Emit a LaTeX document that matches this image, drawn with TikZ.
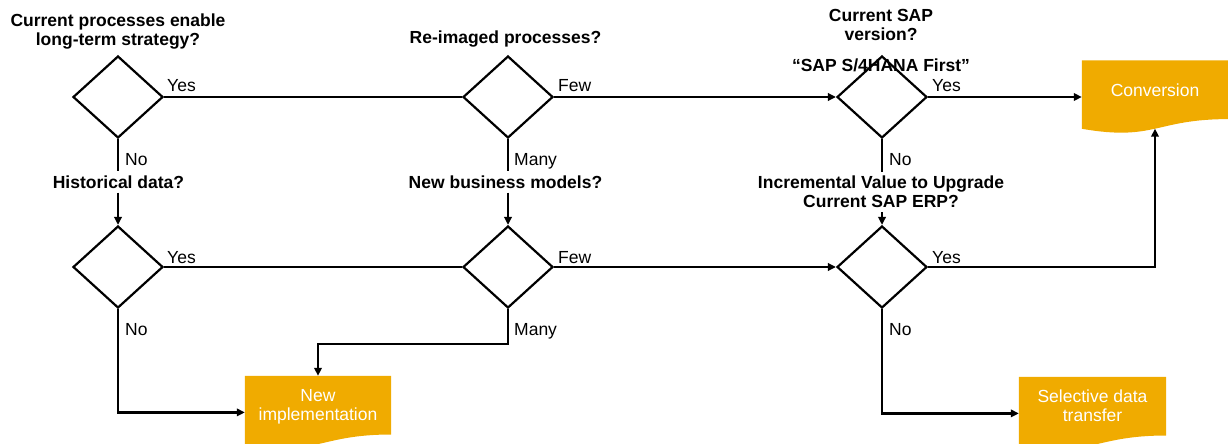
\documentclass[tikz,border=0pt]{standalone}
\usepackage{fontspec}
\setmainfont{Liberation Sans}
\usetikzlibrary{shapes.geometric,arrows.meta,calc}
\definecolor{sapgold}{RGB}{240,171,0}
\newcommand\docfill[1]{%
  \fill[sapgold] (#1.north west) -- (#1.north east) -- ($(#1.north east)!0.802!(#1.south east)$)
    .. controls ($(#1.north)!0.802!(#1.south)$) and ($(#1.north)!1.1075!(#1.south)$) ..
    ($(#1.north west)!0.934!(#1.south west)$) -- cycle;}
\begin{document}
\begin{tikzpicture}[x=1pt,y=-1pt,
  font=\fontsize{17.5}{19}\selectfont,
  dec/.style={diamond,draw,line width=2.2pt,minimum width=90pt,minimum height=82pt,inner sep=0pt},
  ques/.style={font=\fontsize{17.5}{19}\selectfont\bfseries,align=center,inner xsep=0pt,inner ysep=4pt},
  lbl/.style={anchor=base west,inner sep=0pt},
  docbox/.style={minimum width=146pt,minimum height=72.8pt,inner sep=0pt},
  boxtext/.style={text=white,align=center,inner sep=0pt},
  conn/.style={line width=2.2pt},
  arr/.style={conn,-{Triangle[length=8pt,width=7.5pt]}},
]
\useasboundingbox (0,0) rectangle (1228,444);
% decisions
\node[dec] (d1) at (118,97) {};
\node[dec] (d2) at (508,97) {};
\node[dec] (d3) at (882,97) {};
\node[dec] (d4) at (118,267) {};
\node[dec] (d5) at (508,267) {};
\node[dec] (d6) at (882,267) {};
% document boxes
\node[docbox] (conv) at (1155,97) {};
\node[docbox] (newimp) at (318,412.4) {};
\node[docbox,minimum width=147pt] (sel) at (1092.5,413.4) {};
\docfill{conv}
\docfill{newimp}
\docfill{sel}
\node[boxtext,anchor=base] (convt) at (1155,96) {Conversion};
\node[boxtext,anchor=north] (newimpt) at (318,389.5) {New\\implementation};
\node[boxtext,anchor=north] (selt) at (1092.5,390) {Selective data\\transfer};
% questions
\node[ques,anchor=north] (q1) at (118,9.5) {Current processes enable\\long-term strategy?};
\node[ques,anchor=base] (q2) at (505.5,43.3) {Re-imaged processes?};
\node[ques,anchor=north] (q3) at (881,5.2) {Current SAP\\version?};
\node[ques,anchor=base] (q3b) at (881,71) {“SAP S/4HANA First”};
\node[ques,anchor=base] (q4) at (118.5,188.3) {Historical data?};
\node[ques,anchor=base] (q5) at (505.5,188.3) {New business models?};
\node[ques,anchor=north] (q6) at (881,171.8) {Incremental Value to Upgrade\\Current SAP ERP?};
% branch labels
\node[lbl] (l1) at (167,92) {Yes};
\node[lbl] (l2) at (125,165) {No};
\node[lbl] (l3) at (558,92) {Few};
\node[lbl] (l4) at (514,165) {Many};
\node[lbl] (l5) at (932,92) {Yes};
\node[lbl] (l6) at (889,165) {No};
\node[lbl] (l7) at (167,263) {Yes};
\node[lbl] (l8) at (125,335) {No};
\node[lbl] (l9) at (558,263) {Few};
\node[lbl] (l10) at (514,335) {Many};
\node[lbl] (l11) at (932,263) {Yes};
\node[lbl] (l12) at (889,335) {No};
% connectors
\draw[conn] (d1.east) -- (d2.west);
\draw[arr] (d2.east) -- (d3.west);
\draw[arr] (d3.east) -- (conv.west);
\draw[conn] (d1.south) -- (d1.south |- q4.north);
\draw[arr] (d1.south |- q4.south) -- (d4.north);
\draw[conn] (d2.south) -- (d2.south |- q5.north);
\draw[arr] (d2.south |- q5.south) -- (d5.north);
\draw[conn] (d3.south) -- (d3.south |- q6.north);
\draw[arr] (d3.south |- q6.south) -- (d6.north);
\draw[conn] (d4.east) -- (d5.west);
\draw[arr] (d5.east) -- (d6.west);
\coordinate (convin) at ($(conv.north)!0.933!(conv.south)$);
\draw[arr] (d6.east) -| (convin);
\draw[arr] (d4.south) |- (newimp.west);
\draw[arr] (d5.south) -- ++(0,35) -| (newimp.north);
\draw[arr] (d6.south) |- (sel.west);
\end{tikzpicture}
\end{document}
